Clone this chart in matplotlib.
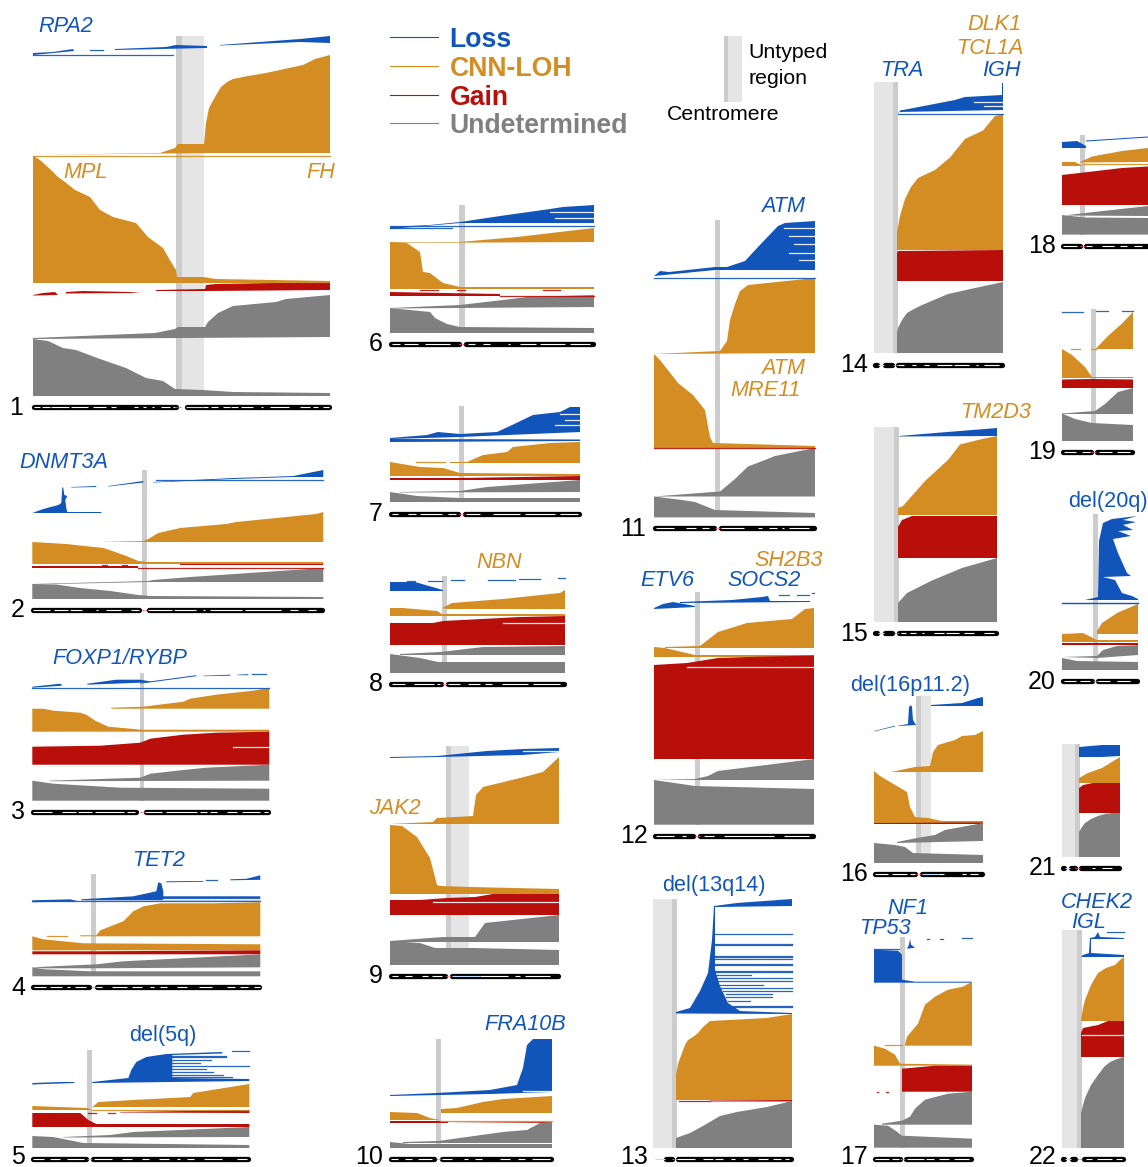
import matplotlib
matplotlib.use("Agg")
import matplotlib.pyplot as plt

plt.rcParams['font.family'] = ['Liberation Sans', 'DejaVu Sans']

# every block is an outline along the chromosome: (position, sample rank from panel top)
CHR1_LOSS = [[(0, 17), (20, 16), (40, 13), (41, 15), (0, 19)],
             [(82, 13), (133, 11), (143, 9), (174, 10), (174, 12), (82, 14)],
             [(187, 9), (267, 3), (297, 0), (297, 7), (267, 6), (187, 9.5)]]
CHR1_CNLOH = [[(0, 119), (127, 117), (142, 112), (145, 108), (171, 108), (173, 87), (176, 72), (182, 61), (188, 51), (194, 46), (200, 43),
               (215, 40), (233, 37), (270, 29), (282, 23), (297, 19), (297, 117), (174, 117)],
              [(0, 120), (7, 124), (18, 134), (25, 141), (32, 146), (42, 154), (57, 161), (67, 174), (80, 181),
               (103, 187), (115, 201), (130, 212), (138, 226), (143, 234), (144, 241), (170, 241), (183, 243),
               (297, 245), (297, 247), (0, 247)]]
CHR1_GAIN = [[(0, 259), (10, 257), (22, 256), (25, 259), (0, 259.5)],
             [(33, 256), (50, 255), (97, 256), (108, 257), (33, 257.5)],
             [(123, 254), (172, 253), (173, 249), (183, 248), (240, 247), (297, 247), (297, 254), (173, 255), (123, 255)]]
CHR1_UND = [[(0, 302), (122, 297), (142, 293), (145, 291), (172, 291), (175, 286), (185, 277), (200, 270), (243, 266),
             (253, 263), (297, 259), (297, 301), (0, 303)],
            [(0, 303), (15, 305), (30, 312), (43, 314), (67, 323), (93, 332), (113, 342), (130, 345), (142, 353),
             (170, 354), (200, 356), (297, 357), (297, 360), (0, 360)]]
CHR1_LINES = [('loss', 0, 140, 19), ('loss', 57, 70, 13.5), ('cnloh', 0, 297, 120)]

CHR2_LOSS = [[(0, 43), (11, 39), (26, 35), (29, 33), (30, 17), (31, 18), (32, 25), (35, 26), (33, 30), (34, 38),
              (35, 42), (69, 42), (69, 43)],
             [(39, 17), (64, 16), (64, 17), (39, 17.5)],
             [(76, 16), (111, 11), (111, 12.5), (76, 16.5)],
             [(121, 12), (161, 10), (201, 8), (234, 7), (261, 6), (281, 2), (291, 0), (291, 7), (261, 7), (201, 9), (121, 12.5)]]
CHR2_CNLOH = [[(68, 72), (111, 71), (116, 69), (126, 63), (148, 58), (194, 54), (204, 52), (284, 44), (291, 42), (291, 72)],
              [(0, 72), (34, 74), (71, 78), (83, 82), (94, 86), (106, 91), (116, 92), (291, 92), (291, 94), (0, 94)]]
CHR2_GAIN = [[(0, 96), (106, 96), (106, 98), (0, 98)],
             [(148, 94), (291, 94), (291, 95), (148, 95)]]
CHR2_UND = [[(0, 114), (116, 111), (121, 110), (158, 107), (291, 98), (291, 112), (116, 112), (0, 114.5)],
            [(0, 114), (24, 114.5), (48, 118), (78, 121), (106, 125), (118, 126), (291, 127), (291, 129), (0, 129)]]
CHR2_LINES = [('loss', 124, 291, 9.5), ('gain', 106, 291, 98), ('gain', 70, 75, 95), ('gain', 90, 95, 95)]

CHR3_LOSS = [[(0, 14), (28, 11), (30, 13), (0, 15)],
             [(55, 11), (84, 7), (108, 7), (120, 9), (108, 10), (55, 12)],
             [(108, 10), (164, 2.5), (164, 3.5), (108, 11)],
             [(171, 3), (198, 2), (198, 3), (171, 3.5)],
             [(205, 2), (216, 1.5), (216, 2.5), (205, 2.5)]]
CHR3_CNLOH = [[(79, 35), (111, 34), (151, 29), (158, 26), (184, 22), (221, 18), (237, 15), (237, 36), (79, 36)],
              [(0, 36), (11, 36), (21, 38), (48, 40), (54, 42), (63, 48), (76, 54), (109, 57), (237, 57), (237, 59), (0, 59)]]
CHR3_GAIN = [[(0, 74), (68, 73), (108, 70), (118, 66), (151, 62), (184, 60), (237, 59), (237, 92), (0, 92)]]
CHR3_UND = [[(17, 108), (108, 105), (118, 101), (154, 97), (174, 95), (237, 92), (237, 108), (17, 108.5)],
            [(0, 108), (21, 111), (88, 115), (237, 116), (237, 128), (0, 128)]]
CHR3_LINES = [('loss', 0, 237, 15), ('gap', 201, 237, 74.5), ('loss', 220, 234, 1.5)]

CHR4_LOSS = [[(0, 26), (38, 25), (46, 27), (0, 28)],
             [(49, 25), (101, 22), (124, 17), (126, 8), (129, 9), (131, 17), (131, 22), (228, 22), (228, 26), (49, 26)],
             [(134, 7), (171, 6.7), (171, 7.5), (134, 8)],
             [(198, 5), (214, 4.5), (228, 1), (228, 5.5), (198, 6)]]
CHR4_CNLOH = [[(48, 61), (64, 61), (68, 56), (91, 47), (101, 37), (111, 32), (128, 29), (181, 29), (228, 28), (228, 62), (48, 62)],
              [(0, 62), (11, 65), (51, 69), (228, 70), (228, 76), (0, 76)]]
CHR4_GAIN = [[(0, 77), (64, 77), (228, 76), (228, 80), (0, 80)]]
CHR4_UND = [[(0, 93), (64, 90), (91, 87), (228, 80), (228, 93), (64, 94), (11, 94)],
            [(0, 93), (13, 95), (58, 97), (228, 97), (228, 102), (0, 102)]]
CHR4_LINES = [('loss', 0, 228, 27), ('gap', 131, 228, 24.5), ('loss', 174, 185, 6), ('cnloh', 15, 35, 61.5)]

CHR5_LOSS = [[(0, 33), (28, 32), (42, 32), (42, 33), (0, 34.5)],
             [(60, 32), (96, 28), (99, 20), (104, 12), (114, 7), (134, 4), (175, 2.5), (190, 2), (190, 3.5), (140, 5),
              (140, 28), (217, 29), (217, 31), (60, 33)]]
CHR5_CNLOH = [[(60, 57), (66, 52), (101, 50), (158, 47), (161, 43), (217, 34), (217, 57)],
              [(0, 56), (55, 58), (60, 60), (0, 60)]]
CHR5_GAIN = [[(0, 63), (48, 63), (56, 70), (64, 74), (217, 74), (217, 77), (0, 77)],
             [(88, 62), (217, 60), (217, 63), (88, 62.5)]]
CHR5_UND = [[(31, 87), (55, 86), (78, 85), (101, 82), (217, 77), (217, 87), (31, 87.5)],
            [(0, 86), (21, 87), (51, 93), (217, 95), (217, 98), (0, 98)]]
CHR5_LINES = [('cnloh', 60, 217, 60), ('gain', 56, 64, 63), ('gain', 76, 83, 62.5), ('loss', 200, 217, 1),
              ('loss', 140, 194, 6), ('loss', 140, 194, 7), ('loss', 140, 179, 10), ('loss', 140, 168, 13),
              ('loss', 140, 217, 16), ('loss', 140, 174, 19), ('loss', 140, 181, 21.7), ('loss', 140, 191, 25),
              ('loss', 140, 200, 27)]

CHR6_LOSS = [[(0, 22), (40, 20), (70, 17), (117, 10), (160, 4), (173, 2), (204, 0), (204, 18), (70, 18), (0, 24)]]
CHR6_CNLOH = [[(0, 37.5), (70, 37), (127, 32), (204, 23), (204, 37), (0, 38)],
              [(0, 37), (17, 38), (30, 47), (33, 67), (40, 68), (53, 78), (70, 82), (204, 82), (204, 84), (0, 84)]]
CHR6_GAIN = [[(0, 87), (110, 89), (110, 91), (0, 91)]]
CHR6_UND = [[(0, 103), (70, 100), (113, 95), (137, 92), (204, 90), (204, 102), (0, 103.5)],
            [(0, 103), (40, 107), (45, 113), (57, 119), (70, 122), (204, 123), (204, 128), (0, 128)]]
CHR6_LINES = [('loss', 0, 204, 21), ('loss', 0, 62, 23.5), ('gap', 160, 204, 7.5), ('gap', 165, 204, 13),
              ('gain', 30, 48, 85.5), ('gain', 67, 75, 85.5), ('gain', 110, 204, 91), ('gain', 153, 170, 85)]

CHR7_LOSS = [[(0, 32), (37, 29), (48, 26), (70, 28), (107, 26), (120, 20), (143, 9), (170, 6), (180, 1), (190, 1),
              (190, 26), (70, 31), (0, 33)],
             [(0, 33), (190, 33.5), (190, 35), (0, 36)]]
CHR7_CNLOH = [[(60, 56), (77, 56), (93, 49), (117, 46), (123, 41), (160, 37), (190, 36), (190, 57), (60, 57)],
              [(0, 56), (30, 61), (53, 62), (70, 67), (190, 68), (190, 70), (0, 70)]]
CHR7_GAIN = [[(0, 72), (70, 72), (190, 70), (190, 74), (0, 74)]]
CHR7_UND = [[(10, 86), (70, 85), (97, 81), (190, 74), (190, 86), (10, 86.5)],
            [(0, 86), (27, 90), (70, 92), (190, 92), (190, 96), (0, 96)]]
CHR7_LINES = [('cnloh', 26, 55, 56), ('gap', 170, 190, 8), ('gap', 175, 190, 14), ('gap', 165, 190, 19)]

CHR8_LOSS = [[(0, 6), (25, 6), (53, 14), (53, 15), (0, 15)]]
CHR8_CNLOH = [[(52, 32), (62, 27), (113, 23), (170, 17), (175, 14), (175, 33), (57, 33)],
              [(0, 32), (13, 32), (47, 35), (52, 38), (175, 38), (175, 40), (0, 40)]]
CHR8_GAIN = [[(0, 47), (43, 47), (53, 45), (130, 41), (175, 40), (175, 69), (0, 69)]]
CHR8_UND = [[(10, 78), (50, 76), (93, 71), (175, 70), (175, 79), (10, 79)],
            [(0, 78), (30, 82), (48, 86), (175, 86), (175, 97), (0, 97)]]
CHR8_LINES = [('loss', 17, 25, 5), ('loss', 38, 52, 5), ('loss', 61, 74, 4), ('loss', 98, 125, 4), ('loss', 129, 150, 2.5),
              ('loss', 168, 175, 1.5), ('gap', 113, 175, 46.5)]

CHR9_LOSS = [[(0, 11), (47, 10), (97, 5), (133, 3), (169, 2), (169, 6), (133, 9), (47, 11), (0, 12)]]
CHR9_CNLOH = [[(0, 78), (43, 76), (47, 72), (83, 70), (86, 49), (93, 41), (130, 32), (153, 26), (169, 11), (169, 78)],
              [(0, 79), (12, 80), (27, 91), (40, 112), (47, 139), (50, 140), (80, 141), (169, 143), (169, 148), (0, 148)]]
CHR9_GAIN = [[(0, 154), (30, 154), (57, 152), (85, 151), (103, 148), (169, 148), (169, 169), (0, 169)]]
CHR9_UND = [[(0, 195), (53, 191), (85, 191), (95, 177), (169, 169), (169, 196), (0, 196)],
            [(0, 195), (30, 197), (45, 202), (83, 202), (169, 204), (169, 219), (0, 219)]]
CHR9_LINES = [('gap', 133, 169, 4.5), ('gap', 43, 169, 155.5)]

CHR10_LOSS = [[(0, 56), (47, 54), (100, 51), (127, 46), (133, 29), (137, 6), (143, 0), (162, 0), (162, 53), (100, 55), (0, 57)]]
CHR10_CNLOH = [[(51, 70), (67, 69), (93, 63), (113, 60), (162, 57), (162, 74), (51, 74)],
               [(0, 73), (27, 74), (40, 79), (50, 81), (0, 81)]]
CHR10_GAIN = [[(0, 82), (58, 82), (58, 84), (162, 83), (162, 84), (0, 84)]]
CHR10_UND = [[(13, 103), (48, 102), (113, 93), (137, 91), (150, 84), (162, 83), (162, 104), (13, 104)],
             [(0, 103), (20, 105), (162, 105), (162, 109), (0, 109)]]
CHR10_LINES = [('gap', 133, 162, 52), ('cnloh', 50, 162, 81.5)]

CHR11_LOSS = [[(0, 56), (6, 51), (15, 52), (61, 47), (73, 47), (91, 41), (104, 27), (124, 6), (131, 3), (161, 1),
               (161, 50), (61, 50), (0, 56)]]
CHR11_CNLOH = [[(0, 134), (66, 131), (73, 121), (76, 100), (81, 84), (86, 71), (94, 65), (161, 58), (161, 133), (0, 134)],
               [(0, 134), (6, 140), (24, 163), (39, 175), (51, 190), (56, 217), (59, 223), (161, 226), (161, 228), (0, 228)]]
CHR11_GAIN = []
CHR11_UND = [[(0, 276.5), (66, 271.5), (81, 259), (94, 246.5), (111, 240), (121, 236), (161, 228), (161, 276.5)],
             [(0, 276.5), (28, 280), (41, 282), (61, 290), (161, 293), (161, 297.4), (0, 297.4)]]
CHR11_LINES = [('loss', 0, 161, 57.5), ('gain', 0, 161, 228), ('gap', 130, 161, 8), ('gap', 135, 161, 16),
               ('gap', 140, 161, 24), ('gap', 135, 161, 33), ('gap', 145, 161, 40)]

CHR12_LOSS = [[(0, 16), (9, 12), (19, 10), (41, 14), (41, 15), (0, 17)],
              [(26, 10), (78, 8), (108, 5), (114, 4), (116, 9), (156, 9), (156, 10), (26, 11)]]
CHR12_CNLOH = [[(11, 55), (46, 54), (64, 40), (93, 31), (138, 27), (151, 17), (160, 16), (160, 56), (11, 56)],
               [(0, 55), (11, 56), (41, 63), (160, 63), (160, 65), (0, 65)]]
CHR12_GAIN = [[(0, 73), (33, 71), (64, 66), (94, 65), (160, 63.5), (160, 167), (0, 167)]]
CHR12_UND = [[(0, 188), (41, 187), (54, 184), (64, 179), (160, 167), (160, 188)],
             [(0, 188), (41, 194), (160, 197), (160, 232.7), (0, 232.7)]]
CHR12_LINES = [('loss', 125, 135, 3.5), ('loss', 143, 155, 3), ('loss', 158, 160, 1), ('gap', 33, 160, 75)]

CHR13_LOSS = [[(23, 113), (37, 109), (47, 92), (55, 74), (59, 41), (61, 7), (84, 4), (139, 0), (139, 7), (62, 8),
               (62, 71), (67, 87), (75, 104), (87, 112), (139, 114), (139, 115), (23, 114.5)]]
CHR13_CNLOH = [[(23, 176), (25, 165), (29, 154), (32, 146), (35, 141), (40, 138), (45, 134), (50, 128), (57, 122),
                (114, 119), (139, 115), (139, 201), (23, 201)]]
CHR13_GAIN = [[(57, 201.5), (139, 201), (139, 202.5), (57, 202.5)]]
CHR13_UND = [[(23, 239), (37, 234), (50, 227), (67, 217), (84, 213), (114, 208), (139, 202), (139, 249), (23, 249)]]
CHR13_LINES = [('loss', 62, 139, 35), ('loss', 62, 139, 45), ('loss', 62, 139, 45.7), ('loss', 62, 139, 57),
               ('loss', 62, 139, 57.8), ('loss', 62, 139, 60), ('loss', 62, 139, 65), ('loss', 62, 139, 65.7),
               ('loss', 62, 139, 72), ('loss', 62, 139, 72.7), ('loss', 62, 98, 76), ('loss', 62, 139, 79),
               ('loss', 62, 139, 82), ('loss', 62, 110, 86), ('loss', 67, 139, 89), ('loss', 70, 139, 92),
               ('loss', 73, 119, 95), ('loss', 73, 119, 98), ('loss', 75, 97, 102), ('loss', 80, 139, 107),
               ('loss', 80, 139, 108), ('gain', 26, 57, 202)]

CHR14_LOSS = [[(24, 31), (27, 28), (29, 28), (81, 18), (91, 15), (128, 13), (128, 1), (129, 1), (129, 28), (24, 30)]]
CHR14_CNLOH = [[(23, 168), (23, 150), (26, 134), (31, 117), (37, 105), (44, 96), (61, 88), (76, 75.5), (91, 57), (109, 48.5),
                (121, 34), (129, 32), (129, 168)]]
CHR14_GAIN = [[(23, 171), (24, 169), (129, 168), (129, 199), (23, 199)]]
CHR14_UND = [[(23, 250), (24, 246), (28, 238), (33, 231), (40, 227), (48, 223), (74, 212), (101, 206), (129, 200), (129, 271), (23, 271)]]
CHR14_LINES = [('loss', 24, 129, 31.5), ('gap', 100, 129, 20), ('gap', 110, 129, 24)]

CHR15_LOSS = [[(25, 9), (61, 6), (123, 1), (123, 9), (25, 9.5)]]
CHR15_CNLOH = [[(24, 81), (29, 79), (51, 54), (74, 33), (86, 17.5), (108, 12), (123, 9), (123, 88), (24, 88)]]
CHR15_GAIN = [[(24, 100), (28, 93), (38, 89), (123, 89), (123, 131), (24, 131)]]
CHR15_UND = [[(24, 176), (33, 166), (58, 153.5), (88, 141), (123, 131), (123, 195), (24, 195)]]
CHR15_LINES = []

CHR16_LOSS = [[(0, 35), (8, 33), (21, 29.7), (21, 30.5), (0, 35.5)],
              [(24, 29.7), (34, 28), (35, 11), (37, 9), (38, 11), (39, 24), (42, 29), (24, 30)],
              [(57, 9), (88, 7), (104, 2), (109, 1), (109, 10), (57, 10)]]
CHR16_CNLOH = [[(17, 76), (41, 71), (56, 70), (59, 56), (64, 49), (81, 44), (88, 40), (101, 39), (109, 35), (109, 76)],
               [(0, 75), (6, 80), (33, 96), (36, 111), (41, 121), (54, 122), (68, 125), (109, 125), (109, 127), (0, 127)]]
CHR16_GAIN = [[(0, 127), (109, 126.5), (109, 128), (0, 128)]]
CHR16_UND = [[(23, 146), (43, 142), (61, 139), (71, 134), (109, 127), (109, 145), (23, 147)],
             [(0, 147), (21, 149), (31, 151), (39, 157), (109, 159), (109, 167), (0, 167)]]
CHR16_LINES = []

CHR17_LOSS = [[(0, 13), (24, 14), (28, 18), (28, 43), (41, 45), (98, 45), (98, 46), (0, 46)],
              [(33, 12), (35, 8), (36, 2), (37, 8), (41, 11), (33, 12)]]
CHR17_CNLOH = [[(31, 108), (33, 100), (44, 87), (51, 68), (61, 60), (74, 53), (89, 50), (98, 45), (98, 109), (31, 109)],
               [(0, 109), (11, 112), (21, 118), (26, 127), (98, 128), (98, 129), (0, 129)]]
CHR17_GAIN = [[(28, 132), (61, 129), (98, 129), (98, 155), (28, 155)]]
CHR17_UND = [[(8, 187), (28, 184), (36, 180), (41, 172), (51, 163), (74, 157), (98, 155), (98, 188), (8, 188)],
             [(0, 188), (14, 189), (23, 195), (28, 199), (98, 202), (98, 211), (0, 211)]]
CHR17_LINES = [('loss', 0, 25, 12.5), ('loss', 53, 55, 2), ('loss', 66, 69, 2), ('loss', 88, 98, 1.5),
               ('cnloh', 11, 28, 108), ('gain', 3, 4, 155), ('gain', 12, 14, 155)]

CHR18_LOSS = [[(0, 7), (15, 6), (24, 11), (24, 13), (0, 13)],
              [(24, 5.5), (86, 1.5), (86, 2.5), (24, 6.5)]]
CHR18_CNLOH = [[(18, 27), (30, 21.5), (60, 16), (86, 13), (86, 27), (18, 27.5)],
               [(0, 27), (13, 27), (21, 31), (0, 31)]]
CHR18_GAIN = [[(0, 40), (26, 37), (60, 33), (86, 31.5), (86, 70), (0, 70)]]
CHR18_UND = [[(6, 80), (23, 78), (86, 71), (86, 81), (6, 80.5)],
             [(0, 80), (23, 82.5), (86, 83), (86, 99.6), (0, 99.6)]]
CHR18_LINES = [('cnloh', 21, 86, 29)]

CHR19_LOSS = []
CHR19_CNLOH = [[(34, 39.5), (46, 27), (60, 14.5), (71, 3), (71, 40), (34, 40)],
               [(0, 40), (10, 46), (23, 58), (30, 68), (71, 68), (71, 69), (0, 69)]]
CHR19_GAIN = [[(0, 70.5), (30, 70), (71, 70.5), (71, 79), (0, 79)]]
CHR19_UND = [[(0, 104.5), (33, 102), (43, 95), (56, 83), (71, 79), (71, 105), (0, 105)],
             [(0, 104.5), (13, 110), (30, 114), (71, 116), (71, 132), (0, 132)]]
CHR19_LINES = [('loss', 0, 21, 2.5), ('loss', 34, 46, 2), ('loss', 60, 71, 1.5), ('cnloh', 9, 18, 40), ('cnloh', 29, 34, 40)]

CHR20_LOSS = [[(23, 86), (36, 83), (37, 27), (41, 9), (50, 5), (75, 2), (61, 6), (74, 8), (61, 11), (71, 16), (56, 17),
               (69, 22), (51, 25), (56, 39), (65, 59), (69, 62), (41, 63), (53, 66), (60, 79), (70, 82), (76, 85), (76, 86)]]
CHR20_CNLOH = [[(35, 117), (40, 109), (55, 99), (76, 90), (76, 120), (35, 120)],
               [(0, 120), (21, 119), (35, 126), (76, 126), (76, 128), (0, 128)]]
CHR20_GAIN = [[(0, 129), (76, 129), (76, 131), (0, 131)]]
CHR20_UND = [[(0, 143), (35, 142), (41, 136), (55, 132), (76, 131), (76, 141), (35, 144)],
             [(0, 144), (15, 147), (76, 148), (76, 156), (0, 156)]]
CHR20_LINES = [('loss', 0, 76, 88.5), ('loss', 0, 76, 89)]

CHR21_LOSS = [[(17, 3), (40, 1), (58, 1), (58, 12), (40, 13), (17, 13)]]
CHR21_CNLOH = [[(17, 34), (26, 29), (40, 24), (58, 13), (58, 39), (17, 39)]]
CHR21_GAIN = [[(17, 44), (21, 41), (31, 39), (58, 39), (58, 69), (17, 69)]]
CHR21_UND = [[(17, 88), (20, 83), (23, 79), (29, 75), (36, 72), (43, 70), (50, 69), (58, 69), (58, 113), (17, 113)]]
CHR21_LINES = []

CHR22_LOSS = [[(19, 27), (21, 25), (27, 23), (28, 8), (33, 7), (36, 2), (38, 7), (62, 8), (62, 9), (29, 9), (29, 23),
               (62, 25), (62, 27)]]
CHR22_CNLOH = [[(19, 90), (21, 78), (23, 70), (29, 55), (36, 43), (44, 38), (53, 35), (58, 30), (62, 27), (62, 91), (19, 91)]]
CHR22_GAIN = [[(19, 103), (21, 98), (36, 95), (46, 91), (62, 91), (62, 127), (19, 127)]]
CHR22_UND = [[(19, 183), (21, 175), (23, 168), (29, 155), (36, 145), (42, 137), (48, 132), (55, 129), (62, 127), (62, 218), (19, 218)]]
CHR22_LINES = [('loss', 45, 62, 2), ('gap', 20, 62, 104.5)]

LOSS = [CHR1_LOSS, CHR2_LOSS, CHR3_LOSS, CHR4_LOSS, CHR5_LOSS, CHR6_LOSS, CHR7_LOSS, CHR8_LOSS, CHR9_LOSS, CHR10_LOSS,
        CHR11_LOSS, CHR12_LOSS, CHR13_LOSS, CHR14_LOSS, CHR15_LOSS, CHR16_LOSS, CHR17_LOSS, CHR18_LOSS, CHR19_LOSS,
        CHR20_LOSS, CHR21_LOSS, CHR22_LOSS]
CNLOH = [CHR1_CNLOH, CHR2_CNLOH, CHR3_CNLOH, CHR4_CNLOH, CHR5_CNLOH, CHR6_CNLOH, CHR7_CNLOH, CHR8_CNLOH, CHR9_CNLOH,
         CHR10_CNLOH, CHR11_CNLOH, CHR12_CNLOH, CHR13_CNLOH, CHR14_CNLOH, CHR15_CNLOH, CHR16_CNLOH, CHR17_CNLOH,
         CHR18_CNLOH, CHR19_CNLOH, CHR20_CNLOH, CHR21_CNLOH, CHR22_CNLOH]
GAIN = [CHR1_GAIN, CHR2_GAIN, CHR3_GAIN, CHR4_GAIN, CHR5_GAIN, CHR6_GAIN, CHR7_GAIN, CHR8_GAIN, CHR9_GAIN, CHR10_GAIN,
        CHR11_GAIN, CHR12_GAIN, CHR13_GAIN, CHR14_GAIN, CHR15_GAIN, CHR16_GAIN, CHR17_GAIN, CHR18_GAIN, CHR19_GAIN,
        CHR20_GAIN, CHR21_GAIN, CHR22_GAIN]
UND = [CHR1_UND, CHR2_UND, CHR3_UND, CHR4_UND, CHR5_UND, CHR6_UND, CHR7_UND, CHR8_UND, CHR9_UND, CHR10_UND, CHR11_UND,
       CHR12_UND, CHR13_UND, CHR14_UND, CHR15_UND, CHR16_UND, CHR17_UND, CHR18_UND, CHR19_UND, CHR20_UND, CHR21_UND,
       CHR22_UND]
LINES = [CHR1_LINES, CHR2_LINES, CHR3_LINES, CHR4_LINES, CHR5_LINES, CHR6_LINES, CHR7_LINES, CHR8_LINES, CHR9_LINES,
         CHR10_LINES, CHR11_LINES, CHR12_LINES, CHR13_LINES, CHR14_LINES, CHR15_LINES, CHR16_LINES, CHR17_LINES,
         CHR18_LINES, CHR19_LINES, CHR20_LINES, CHR21_LINES, CHR22_LINES]

# centromere and untyped spans, arms and pale bands of the ideogram
CENTROMERE = [(143.5, 149), (110, 115), (108, 112), (59, 64), (55, 60), (69, 75), (69, 74), (52, 57), (56, 61), (46, 51),
              (61, 66), (41, 46), (19, 24), (19, 24), (20, 25), (42, 47), (26, 31), (18, 23), (29, 34), (31, 36), (13, 18),
              (15, 20)]
UNTYPED = [(149, 171), None, None, None, None, None, None, None, (61, 79), None, None, None, (0, 19), (0, 19), (0, 20),
           (47, 57), None, None, None, None, (0, 13), (0, 15)]
ARMS = [[(0, 144), (153, 297)], [(0, 108), (116, 291)], [(0, 105), (113, 237)], [(0, 58), (64, 228)], [(0, 55), (60, 217)],
        [(0, 70), (75, 204)], [(0, 69), (74, 190)], [(0, 52), (57, 175)], [(0, 56), (61, 169)], [(0, 45), (51, 162)],
        [(0, 61), (66, 161)], [(0, 40), (45, 160)], [(0, 2), (12, 20), (24, 139)], [(0, 4), (10, 19), (23, 129)],
        [(0, 4), (10, 19), (24, 123)], [(0, 42), (47, 109)], [(0, 27), (31, 98)], [(0, 19), (23, 86)], [(0, 30), (34, 71)],
        [(0, 31), (35, 76)], [(0, 3), (8, 14), (18, 58)], [(0, 3), (9, 14), (21, 62)]]
PALE_BANDS = [[(1, 7), (9, 17), (18, 36), (38, 55), (60, 73), (78, 83), (101, 105), (110, 113), (119, 121), (128, 137), (140, 142),
               (170, 175), (178, 185), (190, 197), (198, 205), (208, 220), (228, 230), (237, 256), (267, 277), (280, 285), (290, 296)],
              [(1, 18), (22, 36), (38, 50), (64, 66), (74, 89), (99, 107), (116, 140), (142, 164), (171, 173), (178, 210), (213, 249), (258, 266), (276, 284)],
              [(1, 20), (30, 44), (46, 60), (63, 92), (95, 103), (113, 130), (134, 165), (168, 175), (178, 185), (195, 205), (210, 228), (232, 236)],
              [(2, 14), (18, 30), (35, 38), (43, 54), (64, 70), (80, 95), (100, 110), (118, 122), (128, 135), (145, 155),
               (167, 180), (195, 203), (208, 216), (222, 228)],
              [(1, 12), (18, 28), (35, 52), (62, 80), (90, 100), (110, 117), (127, 137), (145, 148), (155, 162), (172, 190), (205, 215)],
              [(2, 10), (14, 28), (35, 60), (78, 85), (93, 100), (118, 120), (130, 146), (150, 175), (180, 200)],
              [(2, 8), (18, 26), (30, 52), (58, 66), (76, 90), (103, 130), (135, 165), (170, 188)],
              [(2, 15), (24, 44), (47, 50), (58, 70), (78, 90), (95, 102), (112, 138), (143, 170)],
              [(2, 8), (15, 22), (32, 38), (42, 52), (90, 118), (125, 130), (135, 160)],
              [(1, 8), (15, 22), (28, 42), (52, 62), (74, 78), (85, 92), (110, 120), (128, 135), (142, 160)],
              [(2, 20), (32, 42), (48, 55), (67, 90), (104, 108), (115, 123), (128, 130), (135, 155)],
              [(2, 20), (28, 32), (50, 60), (70, 120), (130, 155)],
              [(24, 42), (50, 60), (62, 70), (78, 82), (90, 95), (105, 115), (120, 128), (132, 136)],
              [(24, 30), (38, 42), (50, 55), (63, 78), (80, 95), (102, 104), (110, 125)],
              [(27, 32), (36, 42), (48, 50), (60, 70), (72, 85), (90, 100), (110, 120)],
              [(1, 14), (18, 33), (36, 41), (64, 70), (88, 92), (96, 104)],
              [(1, 15), (18, 25), (33, 50), (52, 60), (65, 75), (80, 95)],
              [(1, 15), (24, 30), (40, 52), (58, 65), (72, 80)],
              [(2, 14), (20, 28), (37, 50), (55, 68)],
              [(2, 14), (18, 28), (36, 48), (55, 68)],
              [(30, 33), (40, 50)],
              [(24, 30), (35, 50), (54, 60)]]
BLUE_BANDS = {1: (153, 170), 9: (62, 90), 13: (2, 12), 14: (4, 10), 15: (4, 10), 16: (48, 64), 21: (3, 8), 22: (3, 9)}

GENE_LABELS = ['RPA2', 'MPL', 'FH', 'DNMT3A', 'FOXP1/RYBP', 'TET2', 'del(5q)', 'NBN', 'JAK2', 'FRA10B', 'ATM', 'ATM', 'MRE11',
               'SH2B3', 'ETV6', 'SOCS2', 'del(13q14)', 'DLK1', 'TCL1A', 'IGH', 'TRA', 'TM2D3', 'del(16p11.2)', 'del(20q)',
               'NF1', 'TP53', 'CHEK2', 'IGL']
GENE_KINDS = ['loss', 'cnloh', 'cnloh', 'loss', 'loss', 'loss', 'loss', 'cnloh', 'cnloh', 'loss', 'loss', 'cnloh', 'cnloh',
              'cnloh', 'loss', 'loss', 'loss', 'cnloh', 'cnloh', 'loss', 'loss', 'cnloh', 'loss', 'loss', 'loss', 'loss',
              'loss', 'loss']
LEGEND_LABELS = ['Loss', 'CNN-LOH', 'Gain', 'Undetermined']
LEGEND_KINDS = ['loss', 'cnloh', 'gain', 'und']

# layout, in output pixels
COLORS = {'loss': '#1155BB', 'cnloh': '#D38D22', 'gain': '#B80F0A', 'und': '#808080', 'gap': 'white'}
PANEL_BOX = [(33, 36, 297, 360, 371), (32.3, 470, 291, 129, 140), (32.3, 672.7, 237, 128, 139), (32.3, 874.3, 228, 102, 113),
             (32.3, 1050, 217, 98, 109), (390, 205, 204, 128, 139), (390, 406, 190, 96, 108), (390, 576, 175, 97, 108),
             (390, 746, 169, 219, 230), (390, 1039, 162, 109, 120), (654, 220, 161, 297.4, 308), (654, 592, 160, 232.7, 243.5),
             (653, 899, 139, 249, 260), (874, 82, 129, 271, 283), (874, 427, 123, 195, 206), (874, 696, 109, 167, 178),
             (874, 936.7, 98, 211, 222), (1062, 135, 86, 99.6, 111), (1062, 309, 71, 132, 143), (1062, 514, 76, 156, 167),
             (1062, 744, 58, 113, 124), (1062, 930, 62, 218, 229)]
NUMBER_POS = [(23, 408), (25, 610), (25, 812), (25, 988), (25, 1157), (383, 344), (383, 514), (383, 684), (383, 976), (383, 1157),
              (646, 529), (648, 836), (648, 1157), (868, 365), (868, 634), (868, 874), (868, 1157), (1056, 246), (1056, 452),
              (1056, 682), (1056, 868), (1056, 1157)]
GENE_POS = [(66, 27), (86, 173), (321, 173), (64, 463), (120, 658), (159, 861), (163, 1036), (499, 563), (395, 809), (525, 1025),
            (783, 207), (783, 369), (766, 391), (789, 561), (667, 581), (764, 581), (714, 885), (994, 25), (990, 49), (1001, 71),
            (902, 71), (996, 413), (910, 685), (1108, 501), (908, 908), (885, 929), (1097, 903), (1089, 923)]
W, H = 1148, 1167

fig = plt.figure(figsize=(W / 100, H / 100), dpi=100)

for i, (left, top, width, height, ideo_y) in enumerate(PANEL_BOX):
    span = ideo_y + 6
    ax = fig.add_axes([left / W, 1 - (top + span) / H, width / W, span / H])
    ax.set_xlim(0, width)
    ax.set_ylim(span, 0)
    ax.set_axis_off()

    if UNTYPED[i]:
        ax.fill_between(UNTYPED[i], 0, height, color='#E5E5E5', lw=0, zorder=1)
    ax.fill_between(CENTROMERE[i], 0, height, color='#CCCCCC', lw=0, zorder=1)

    for kind, blocks in (('loss', LOSS[i]), ('cnloh', CNLOH[i]), ('gain', GAIN[i]), ('und', UND[i])):
        for block in blocks:
            xs = [p[0] for p in block]
            ys = [p[1] for p in block]
            ax.fill(xs, ys, color=COLORS[kind], lw=0, zorder=2, clip_on=False)

    for kind, x0, x1, y in LINES[i]:
        ax.plot([x0, x1], [y, y], color=COLORS[kind], lw=0.9, alpha=0.9, zorder=3, clip_on=False)

    # ideogram
    for a0, a1 in ARMS[i]:
        ax.plot([a0 + 1, a1 - 1], [ideo_y, ideo_y], color='black', lw=3.8, solid_capstyle='round', zorder=2, clip_on=False)
    for b0, b1 in PALE_BANDS[i]:
        ax.plot([b0, b1], [ideo_y, ideo_y], color='white', lw=0.8, solid_capstyle='butt', zorder=3, clip_on=False)
    if i + 1 in BLUE_BANDS:
        ax.plot(BLUE_BANDS[i + 1], [ideo_y, ideo_y], color='#BBDDFF', lw=0.8, solid_capstyle='butt', zorder=3, clip_on=False)
    ax.plot(CENTROMERE[i], [ideo_y, ideo_y], color='#FF5555', lw=0.7, ls=(0, (2, 1)), zorder=3, clip_on=False)

# labels and legend share one page-sized axes
page = fig.add_axes([0, 0, 1, 1], zorder=5)
page.set_xlim(0, W)
page.set_ylim(H, 0)
page.set_axis_off()
page.patch.set_alpha(0)

for i, (x, y) in enumerate(NUMBER_POS):
    page.text(x, y, str(i + 1), fontsize=18, color='black', ha='right', va='center')

for name, kind, (x, y) in zip(GENE_LABELS, GENE_KINDS, GENE_POS):
    style = 'normal' if name.startswith('del(') else 'italic'
    page.text(x, y, name, fontsize=15.6, style=style, color=COLORS[kind], ha='center', va='center')

for name, kind, y in zip(LEGEND_LABELS, LEGEND_KINDS, (37, 66, 95, 123)):
    page.plot([390, 438], [y, y], color=COLORS[kind], lw=0.8)
    page.text(449.5, y + 3, name, fontsize=19.2, fontweight='bold', color=COLORS[kind], va='center')

page.fill_between([728, 742], 36, 102, color='#E5E5E5', lw=0)
page.fill_between([724, 728], 36, 102, color='#CCCCCC', lw=0)
page.text(748, 53, 'Untyped', fontsize=15.3, va='center')
page.text(748, 79, 'region', fontsize=15.3, va='center')
page.text(723, 115, 'Centromere', fontsize=15.3, ha='center', va='center')

fig.savefig('out.png', dpi=100)
